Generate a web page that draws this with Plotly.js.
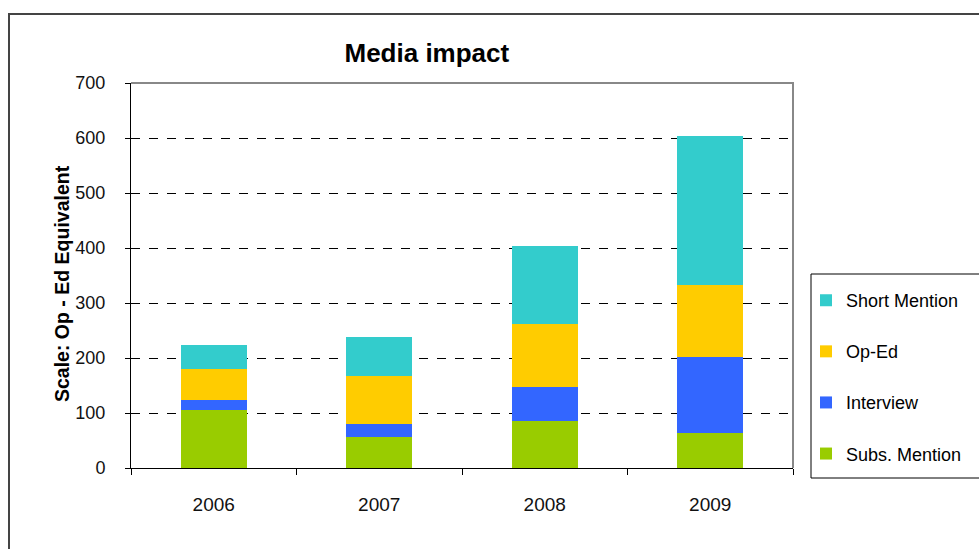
<!DOCTYPE html>
<html>
<head>
<meta charset="utf-8">
<script src="https://cdn.plot.ly/plotly-3.0.1.min.js"></script>
<style>
html,body{margin:0;padding:0;background:#fff;}
#frame{position:absolute;left:8px;top:13px;width:1200px;height:800px;border-left:2px solid #444;border-top:2px solid #444;pointer-events:none;}
#chart{position:absolute;left:0;top:0;width:979px;height:549px;}
</style>
</head>
<body>
<div id="chart"></div>
<div id="frame"></div>
<script>
const years = ['2006', '2007', '2008', '2009'];
const subsMention = [105, 56, 86, 63];
const interview = [19, 24, 61, 139];
const opEd = [56, 88, 114, 131];
const shortMention = [44, 70, 143, 270];
const yTicks = [0, 100, 200, 300, 400, 500, 600, 700];

const series = [
  {name: 'Subs. Mention', y: subsMention, color: '#99CC00', rank: 4},
  {name: 'Interview', y: interview, color: '#3366FF', rank: 3},
  {name: 'Op-Ed', y: opEd, color: '#FFCC00', rank: 2},
  {name: 'Short Mention', y: shortMention, color: '#33CCCC', rank: 1}
];

const traces = series.map((s, i) => ({
  type: 'bar',
  x: years,
  y: s.y,
  name: s.name,
  legendgroup: 'g' + i,
  legendrank: s.rank,
  marker: {color: s.color, line: {width: 0}},
  hoverinfo: 'x+y+name'
}));

const font = 'Liberation Sans, Arial, sans-serif';

const layout = {
  width: 979,
  height: 549,
  margin: {l: 131, r: 186, t: 83, b: 81},
  paper_bgcolor: 'rgba(0,0,0,0)',
  plot_bgcolor: '#ffffff',
  barmode: 'stack',
  bargap: 0.6,
  font: {family: font, size: 18, color: '#000'},
  title: {
    text: '<b>Media impact</b>',
    font: {family: font, size: 26, color: '#000'},
    x: 0.436, xref: 'container', xanchor: 'center',
    y: 0.903, yref: 'container', yanchor: 'middle'
  },
  xaxis: {
    type: 'category',
    tickson: 'boundaries',
    ticks: 'outside',
    ticklen: 6,
    tickcolor: '#000',
    tickwidth: 1,
    showline: true,
    linecolor: '#000',
    linewidth: 1,
    showgrid: false,
    ticklabelstandoff: 19,
    tickfont: {family: font, size: 19, color: '#111'}
  },
  yaxis: {
    range: [0, 700],
    tickvals: yTicks,
    ticktext: yTicks.map(String),
    ticks: 'outside',
    ticklen: 5,
    tickcolor: '#000',
    showline: true,
    linecolor: '#000',
    linewidth: 1,
    showgrid: true,
    gridcolor: '#000',
    gridwidth: 1,
    griddash: 'dash',
    zeroline: false,
    ticklabelstandoff: 16,
    tickfont: {family: font, size: 18, color: '#111'}
  },
  annotations: [{
    text: '<b>Scale: Op - Ed Equivalent</b>',
    textangle: -90,
    xref: 'paper', yref: 'paper',
    x: (62 - 131) / 662, y: (468 - 284) / 385,
    xanchor: 'center', yanchor: 'middle',
    showarrow: false,
    font: {family: font, size: 19.5, color: '#000'}
  }],
  legend: {
    x: 1.0196, xanchor: 'left',
    y: 0.483, yanchor: 'top',
    traceorder: 'grouped',
    tracegroupgap: 24.7,
    borderwidth: 0,
    bgcolor: 'rgba(0,0,0,0)',
    font: {family: font, size: 18, color: '#000'},
    itemwidth: 30
  },
  shapes: [{
    type: 'path',
    xref: 'paper', yref: 'paper',
    path: 'M 0 1 L 1 1 L 1 0',
    line: {color: '#888', width: 2},
    layer: 'above'
  }, {
    type: 'rect',
    xref: 'paper', yref: 'paper',
    x0: (811 - 131) / 662, x1: 1.4,
    y0: (468 - 478) / 385, y1: (468 - 274) / 385,
    line: {color: '#000', width: 1},
    fillcolor: 'rgba(0,0,0,0)',
    layer: 'above'
  }],
  showlegend: true
};

Plotly.newPlot('chart', traces, layout, {displayModeBar: false, staticPlot: true});
</script>
</body>
</html>
